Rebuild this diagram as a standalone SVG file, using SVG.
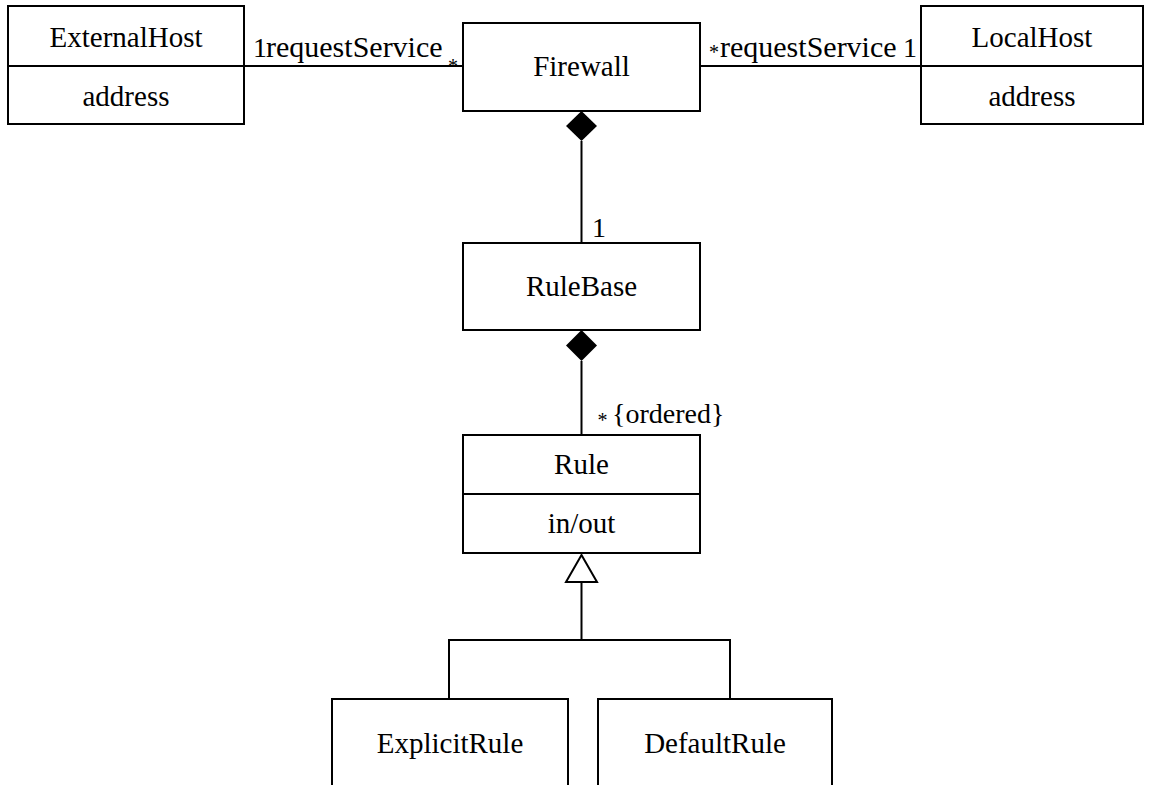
<svg xmlns="http://www.w3.org/2000/svg" width="1151" height="785" viewBox="0 0 1151 785">
<style>
.box{fill:#fff;stroke:#000;stroke-width:2}
.ln{fill:none;stroke:#000;stroke-width:2}
</style>
<rect width="1151" height="785" fill="#fff"/>
<g id="connectors">
<line class="ln" x1="244" y1="66" x2="463" y2="66"/>
<line class="ln" x1="700" y1="66" x2="921" y2="66"/>
<line class="ln" x1="581.5" y1="141" x2="581.5" y2="243"/>
<polygon points="581.5,111 597,126 581.5,141 566,126" fill="#000"/>
<line class="ln" x1="581.5" y1="361" x2="581.5" y2="435"/>
<polygon points="581.5,330 597,345.5 581.5,361 566,345.5" fill="#000"/>
<line class="ln" x1="581.5" y1="582" x2="581.5" y2="640"/>
<polyline class="ln" points="449,699 449,640 730,640 730,699"/>
<polygon points="581.5,555 597,582 566,582" fill="#fff" stroke="#000" stroke-width="2"/>
<text x="253" y="57" font-family="Liberation Serif" font-size="28">1</text>
<text x="266" y="57" font-family="Liberation Serif" font-size="30">requestService</text>
<text x="448" y="73" font-family="Liberation Serif" font-size="20">*</text>
<text x="709" y="59" font-family="Liberation Serif" font-size="20">*</text>
<text x="720" y="57" font-family="Liberation Serif" font-size="30">requestService</text>
<text x="903" y="57" font-family="Liberation Serif" font-size="28">1</text>
<text x="592" y="237" font-family="Liberation Serif" font-size="28">1</text>
<text x="597.5" y="427" font-family="Liberation Serif" font-size="20">*</text>
<text x="612" y="423" font-family="Liberation Serif" font-size="28">{ordered}</text>
</g>
<g id="ExternalHost">
<rect class="box" x="8" y="6" width="236" height="118"/>
<line class="ln" x1="8" y1="66" x2="244" y2="66"/>
<text x="126" y="47" font-family="Liberation Serif" font-size="29" text-anchor="middle">ExternalHost</text>
<text x="126" y="106" font-family="Liberation Serif" font-size="29" text-anchor="middle">address</text>
</g>
<g id="Firewall">
<rect class="box" x="463" y="23" width="237" height="88"/>
<text x="581.5" y="76" font-family="Liberation Serif" font-size="29" text-anchor="middle">Firewall</text>
</g>
<g id="LocalHost">
<rect class="box" x="921" y="6" width="222" height="118"/>
<line class="ln" x1="921" y1="66" x2="1143" y2="66"/>
<text x="1032" y="47" font-family="Liberation Serif" font-size="29" text-anchor="middle">LocalHost</text>
<text x="1032" y="106" font-family="Liberation Serif" font-size="29" text-anchor="middle">address</text>
</g>
<g id="RuleBase">
<rect class="box" x="463" y="243" width="237" height="87"/>
<text x="581.5" y="296" font-family="Liberation Serif" font-size="29" text-anchor="middle">RuleBase</text>
</g>
<g id="Rule">
<rect class="box" x="463" y="435" width="237" height="118"/>
<line class="ln" x1="463" y1="494" x2="700" y2="494"/>
<text x="581.5" y="474" font-family="Liberation Serif" font-size="29" text-anchor="middle">Rule</text>
<text x="581.5" y="533" font-family="Liberation Serif" font-size="29" text-anchor="middle">in/out</text>
</g>
<g id="ExplicitRule">
<rect class="box" x="332" y="699" width="236" height="100"/>
<text x="450" y="753" font-family="Liberation Serif" font-size="29" text-anchor="middle">ExplicitRule</text>
</g>
<g id="DefaultRule">
<rect class="box" x="598" y="699" width="234" height="100"/>
<text x="715" y="753" font-family="Liberation Serif" font-size="29" text-anchor="middle">DefaultRule</text>
</g>
</svg>
